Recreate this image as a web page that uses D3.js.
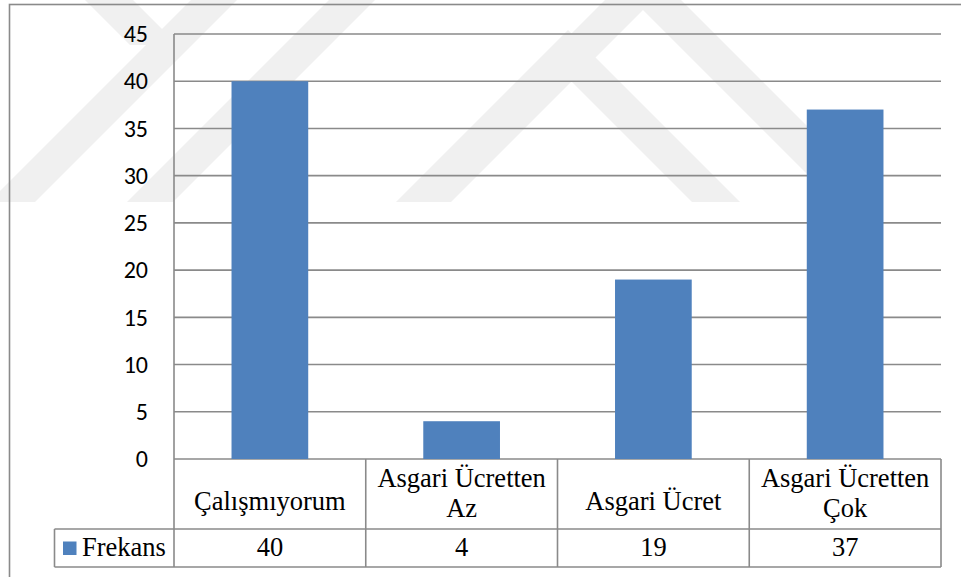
<!DOCTYPE html>
<html>
<head>
<meta charset="utf-8">
<script src="https://cdn.jsdelivr.net/npm/d3@7"></script>
<style>
  html, body { margin: 0; padding: 0; background: #fff; }
  svg { display: block; }
</style>
</head>
<body>
<svg id="chart" width="961" height="577"></svg>
<script>
// Data
const categories = ["Çalışmıyorum", "Asgari Ücretten Az", "Asgari Ücret", "Asgari Ücretten Çok"];
const frekans = [40, 4, 19, 37];
const seriesName = "Frekans";
const yTicks = [0, 5, 10, 15, 20, 25, 30, 35, 40, 45];

// Background stamp: light chevrons and diagonal bands
const stampChevrons = [{ x: 568, y: 30 }, { x: 643, y: -38 }];
const stampBands = [-11, 127];

const svg = d3.select("#chart");
const plot = { left: 174, right: 941, top: 34, bottom: 459 };
const catRow = { top: 459, bottom: 529 };
const valRow = { top: 529, bottom: 567 };
const legendLeft = 54.5;
const lineColor = "#8a8a8a";
const barColor = "#4F81BD";
const serifFont = '"Liberation Serif"';
const axisFont = '"Carlito"';

// ---- stamp layer ----
const stamp = svg.append("g").attr("fill", "#f0f0f0");
const sBottom = 202, sThick = 48;
const pts = arr => arr.map(p => p.join(",")).join(" ");
stampChevrons.forEach(c => {
  const h = sBottom - c.y;
  stamp.append("polygon").attr("points", pts([
    [c.x - h, sBottom], [c.x, c.y], [c.x + h, sBottom],
    [c.x + h - sThick, sBottom], [c.x, c.y + sThick], [c.x - h + sThick, sBottom]
  ]));
});
stampBands.forEach(x0 => {
  stamp.append("polygon").attr("points", pts([
    [x0, sBottom], [x0 + 46, sBottom], [x0 + 46 + sBottom, 0], [x0 + sBottom, 0]
  ]));
});
// short back-slanted stub joining the first band
stamp.append("polygon").attr("points", pts([[85, 0], [133, 0], [178, 45], [130, 45]]));

// ---- outer chart frame ----
svg.append("rect")
  .attr("x", 9.5).attr("y", 4.5).attr("width", 980).attr("height", 600)
  .attr("fill", "none").attr("stroke", lineColor).attr("stroke-width", 1.6);

// ---- scales ----
const y = d3.scaleLinear().domain([0, 45]).range([plot.bottom, plot.top]);
const xCol = d3.scaleBand().domain(categories).range([plot.left, plot.right]).padding(0);
const xBar = d3.scaleBand().domain(categories).range([plot.left, plot.right])
  .paddingInner(0.6).paddingOuter(0.3);

// ---- gridlines ----
svg.append("g").selectAll("line").data(yTicks).join("line")
  .attr("x1", plot.left).attr("x2", plot.right)
  .attr("y1", d => y(d)).attr("y2", d => y(d))
  .attr("stroke", lineColor).attr("stroke-width", 1.6);

// ---- value axis labels ----
const yAxis = d3.axisLeft(y).tickValues(yTicks).tickSize(0).tickPadding(26);
const yAxisG = svg.append("g").attr("transform", `translate(${plot.left},0)`).call(yAxis);
yAxisG.attr("font-family", null).attr("font-size", null);
yAxisG.select(".domain").remove();
yAxisG.selectAll("text")
  .style("font-family", axisFont)
  .style("font-size", "24px").attr("fill", "#000");

// ---- bars ----
svg.append("g").selectAll("rect").data(categories).join("rect")
  .attr("x", d => xBar(d))
  .attr("width", xBar.bandwidth())
  .attr("y", (d, i) => y(frekans[i]))
  .attr("height", (d, i) => y(0) - y(frekans[i]))
  .attr("fill", barColor);

// ---- data table ----
const table = svg.append("g").attr("stroke", lineColor).attr("stroke-width", 1.6);
table.append("line").attr("x1", plot.left).attr("x2", plot.left)
  .attr("y1", plot.top).attr("y2", valRow.bottom);
table.selectAll("line.col").data(categories.slice(1).map(c => xCol(c)).concat([plot.right]))
  .join("line").attr("class", "col")
  .attr("x1", d => d).attr("x2", d => d)
  .attr("y1", catRow.top).attr("y2", valRow.bottom);
[valRow.top, valRow.bottom].forEach(yy => {
  table.append("line").attr("x1", legendLeft).attr("x2", plot.right)
    .attr("y1", yy).attr("y2", yy);
});
table.append("line").attr("x1", legendLeft).attr("x2", legendLeft)
  .attr("y1", valRow.top).attr("y2", valRow.bottom);

const fs = "26.5px";

// category names (wrapped to the column width)
const catG = svg.append("g").attr("fill", "#000").attr("text-anchor", "middle");
categories.forEach(c => {
  const cx = xCol(c) + xCol.bandwidth() / 2;
  const maxW = xCol.bandwidth() - 8;
  const words = c.split(" ");
  const probe = catG.append("text").attr("visibility", "hidden")
    .style("font-family", serifFont).style("font-size", fs);
  const lines = [];
  let cur = [];
  words.forEach(w => {
    probe.text(cur.concat([w]).join(" "));
    if (probe.node().getComputedTextLength() > maxW && cur.length) {
      lines.push(cur.join(" "));
      cur = [w];
    } else cur.push(w);
  });
  lines.push(cur.join(" "));
  probe.remove();
  const baselines = lines.length === 1 ? [510] : [487, 517];
  lines.forEach((ln, k) => {
    catG.append("text").attr("x", cx).attr("y", baselines[k])
      .style("font-family", serifFont).style("font-size", fs)
      .text(ln);
  });
});

// series values
svg.append("g").attr("fill", "#000").attr("text-anchor", "middle")
  .selectAll("text").data(categories).join("text")
  .attr("x", d => xCol(d) + xCol.bandwidth() / 2)
  .attr("y", 556)
  .style("font-family", serifFont).style("font-size", fs)
  .text((d, i) => frekans[i]);

// legend key
svg.append("rect").attr("x", 63).attr("y", 541.5).attr("width", 13.5).attr("height", 13.5)
  .attr("fill", barColor);
svg.append("text").attr("x", 82).attr("y", 555.5)
  .style("font-family", serifFont).style("font-size", fs).attr("fill", "#000")
  .text(seriesName);
</script>
</body>
</html>
